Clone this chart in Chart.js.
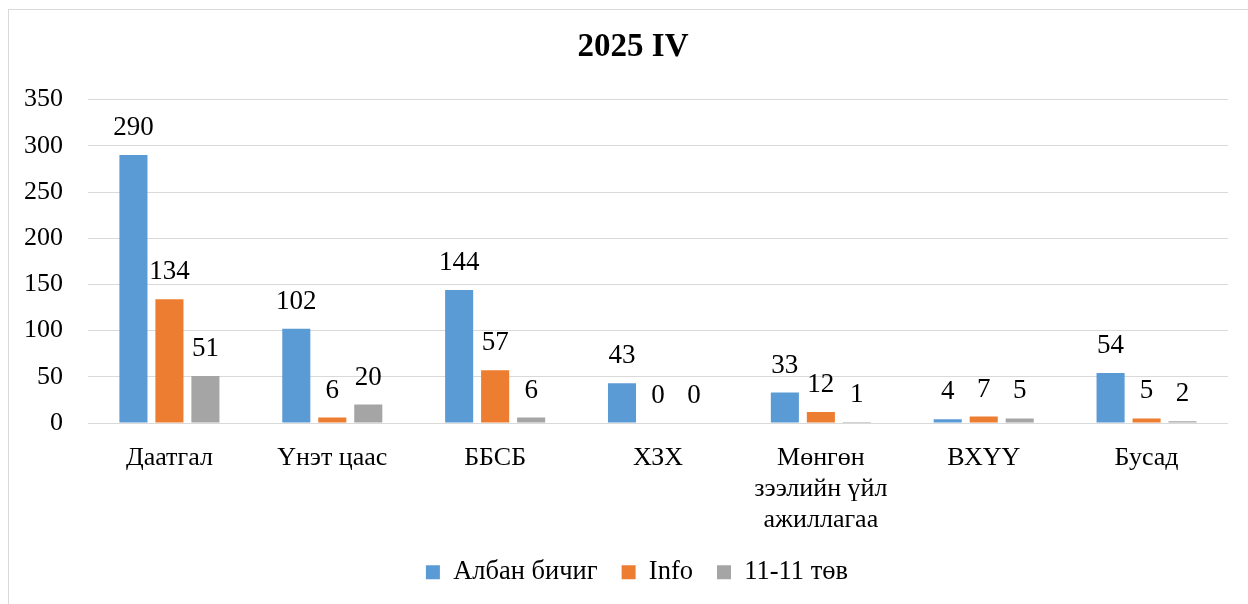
<!DOCTYPE html>
<html>
<head>
<meta charset="utf-8">
<script src="https://cdn.jsdelivr.net/npm/chart.js@4"></script>
<style>
  html, body { margin: 0; padding: 0; background: #fff; }
  #wrap { position: relative; width: 1248px; height: 604px; overflow: hidden; }
  #frame { position: absolute; left: 8px; top: 9px; width: 1260px; height: 620px; border: 1px solid #d9d9d9; box-sizing: border-box; }
  canvas { position: absolute; left: 0; top: 0; }
</style>
</head>
<body>
<div id="wrap">
  <div id="frame"></div>
  <canvas id="chart" width="1248" height="604"></canvas>
</div>
<script>
const categories = ["Даатгал", "Үнэт цаас", "ББСБ", "ХЗХ", ["Мөнгөн", "зээлийн үйл", "ажиллагаа"], "ВХҮҮ", "Бусад"];
const seriesNames = ["Албан бичиг", "Info", "11-11 төв"];
const albanBichig = [290, 102, 144, 43, 33, 4, 54];
const info = [134, 6, 57, 0, 12, 7, 5];
const tuv = [51, 20, 6, 0, 1, 5, 2];
const colors = ["#5B9BD5", "#ED7D31", "#A5A5A5"];
const yTicks = [0, 50, 100, 150, 200, 250, 300, 350];

const FONT = "'Liberation Serif', 'Times New Roman', serif";
Chart.defaults.font.family = FONT;
Chart.defaults.color = "#000";

// value labels above each bar
const barLabels = {
  id: "barLabels",
  afterDatasetsDraw(chart) {
    const ctx = chart.ctx;
    ctx.save();
    ctx.font = "27px " + FONT;
    ctx.fillStyle = "#000";
    ctx.textAlign = "center";
    ctx.textBaseline = "middle";
    chart.data.datasets.forEach((ds, i) => {
      chart.getDatasetMeta(i).data.forEach((bar, j) => {
        ctx.fillText(String(ds.data[j]), bar.x, bar.y - 27);
      });
    });
    ctx.restore();
  }
};

// title and legend sit a bit right of centre in the original
const nudge = {
  id: "nudge",
  afterLayout(chart) {
    if (chart.legend) { chart.legend.left += 19; chart.legend.right += 19; }
    if (chart.titleBlock) { chart.titleBlock.left += 15; chart.titleBlock.right += 15; }
  }
};

new Chart(document.getElementById("chart"), {
  type: "bar",
  data: {
    labels: categories,
    datasets: [
      { label: seriesNames[0], data: albanBichig, backgroundColor: colors[0] },
      { label: seriesNames[1], data: info, backgroundColor: colors[1] },
      { label: seriesNames[2], data: tuv, backgroundColor: colors[2] }
    ]
  },
  options: {
    responsive: false,
    animation: false,
    layout: { padding: { left: 8, right: 20, top: 10, bottom: 8.5 } },
    datasets: {
      bar: { categoryPercentage: 0.663, barPercentage: 0.78 }
    },
    plugins: {
      title: {
        display: true,
        text: "2025 IV",
        font: { size: 33, weight: "bold", family: FONT },
        color: "#000",
        padding: { top: 18, bottom: 32 }
      },
      legend: {
        position: "bottom",
        labels: {
          boxWidth: 14,
          boxHeight: 14,
          padding: 24,
          font: { size: 26.5, family: FONT },
          color: "#000"
        }
      },
      tooltip: { enabled: false }
    },
    scales: {
      x: {
        grid: { display: false },
        border: { display: false },
        ticks: {
          font: { size: 26, family: FONT, lineHeight: 1.18 },
          color: "#000",
          maxRotation: 0,
          autoSkip: false,
          padding: 12
        },
        afterFit(scale) { scale.height = 112; }
      },
      y: {
        min: 0,
        max: 350,
        afterBuildTicks(scale) { scale.ticks = yTicks.map(v => ({ value: v })); },
        grid: { color: "#d9d9d9", lineWidth: 1, drawTicks: false },
        border: { display: false },
        ticks: {
          font: { size: 26, family: FONT },
          color: "#000",
          padding: 25
        },
        afterFit(scale) { scale.width = 80; }
      }
    }
  },
  plugins: [barLabels, nudge]
});
</script>
</body>
</html>
